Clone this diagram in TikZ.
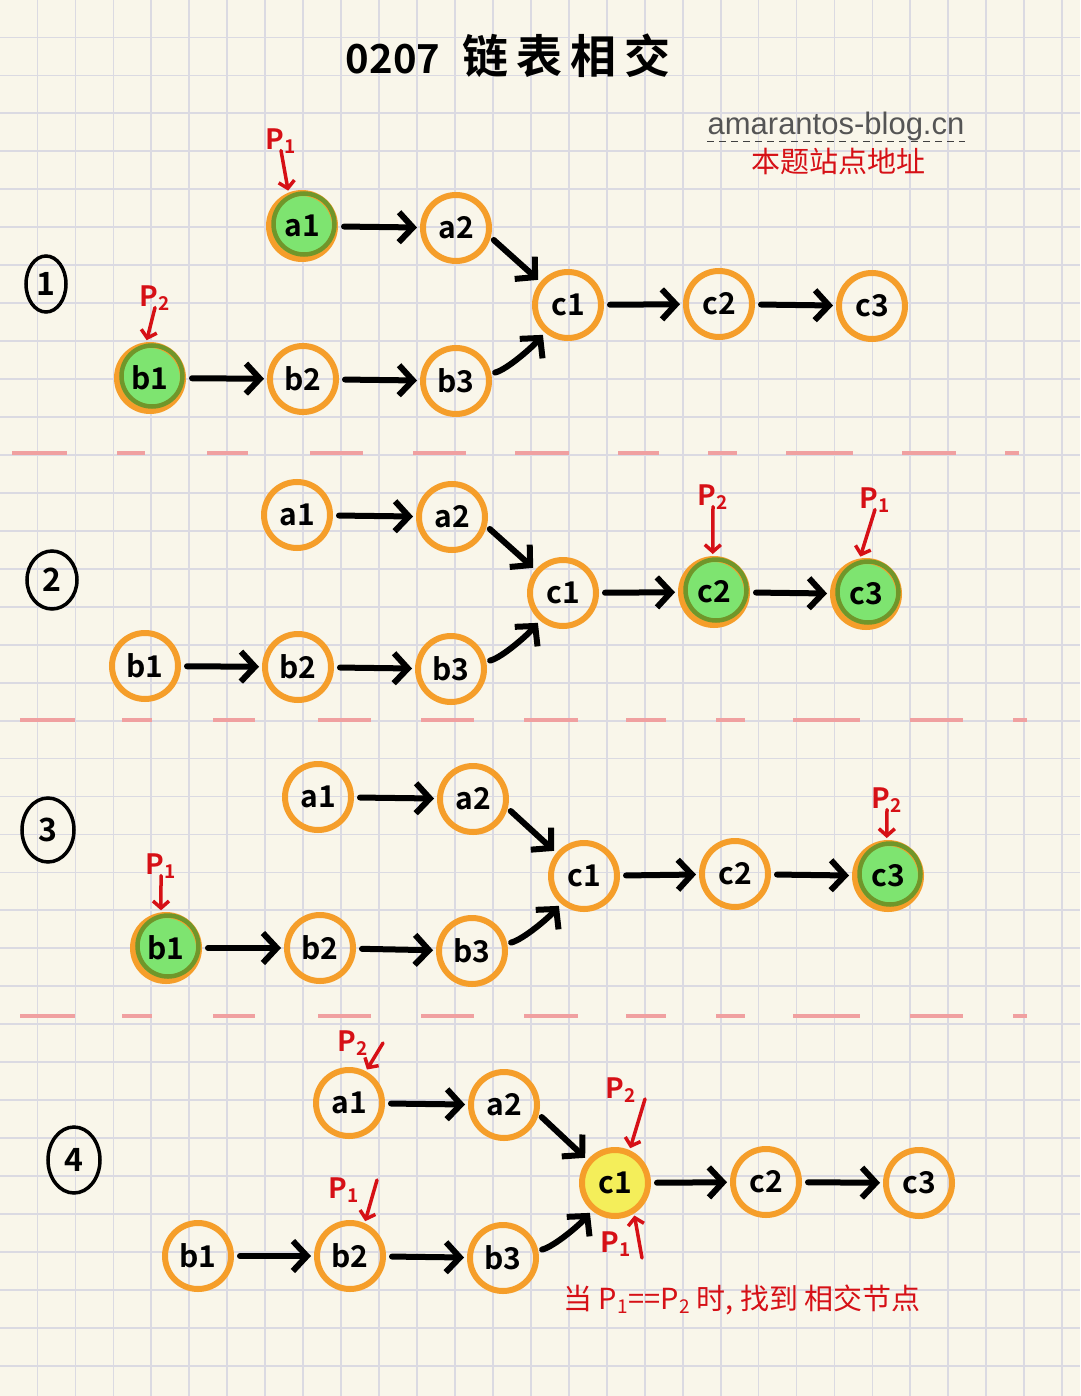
\documentclass[tikz,border=0pt]{standalone}
\usepackage{fontspec}
\usetikzlibrary{arrows.meta,shapes.geometric}
\newfontfamily\cjk{Noto Sans CJK SC}[BoldFont={Noto Sans CJK SC Bold}]
\newfontfamily\web{Liberation Sans}
\definecolor{bg}{RGB}{249,246,234}
\definecolor{gridc}{RGB}{219,218,226}
\definecolor{orng}{RGB}{245,158,42}
\definecolor{grn}{RGB}{126,228,112}
\definecolor{olive}{RGB}{112,150,42}
\definecolor{yel}{RGB}{244,238,90}
\definecolor{pen}{RGB}{214,16,22}
\definecolor{sepc}{RGB}{240,160,160}
\definecolor{webc}{RGB}{85,85,85}
\newcommand\Pn[1]{P\kern0.5pt\raisebox{-4pt}{\fontsize{19}{19}\selectfont #1}}
\tikzset{
  nd/.style={circle, draw=orng, line width=6pt, minimum size=66pt, inner sep=0pt,
    font=\cjk\bfseries\fontsize{30}{30}\selectfont},
  gnode/.style={nd, fill=grn},
  ynode/.style={nd, fill=yel},
  rim/.style={olive, line width=4.5pt},
  arr/.style={line width=6pt, line cap=round, -{Straight Barb[length=14pt,width=30pt]},
    shorten <=6pt, shorten >=3pt},
  parr/.style={pen, line width=3.5pt, line cap=round, -{Straight Barb[length=7pt,width=16pt]},
    shorten >=2pt},
  plab/.style={text=pen, font=\cjk\bfseries\fontsize{28}{28}\selectfont, inner sep=0pt},
  num/.style={ellipse, draw=black, line width=3.5pt, inner sep=0pt,
    font=\cjk\bfseries\fontsize{32}{32}\selectfont},
  gridl/.style={gridc, line width=1.8pt},
  sepl/.style={sepc, line width=3.5pt},
}
\begin{document}
\begin{tikzpicture}[x=1pt,y=-1pt]
\useasboundingbox (0,0) rectangle (1080,1396);
\fill[bg] (0,0) rectangle (1080,1396);
% grid
\foreach \i in {0,...,27} \draw[gridl] ({37.5+37.95*\i},0) -- ({37.5+37.95*\i},1396);
\foreach \i in {0,...,35} \draw[gridl] (0,{37.5+37.95*\i}) -- (1080,{37.5+37.95*\i});
% separators
\foreach \a/\b in {12/67,117/145,207/248,310/363,413/466,515/569,618/659,708/737,786/853,902/956,1005/1019}
  \draw[sepl] (\a,453) -- (\b,453);
\foreach \yy in {720,1016}
  \foreach \a/\b in {20/75,122/152,213/255,318/371,421/474,524/578,626/666,716/745,793/860,910/963,1013/1027}
    \draw[sepl] (\a,\yy) -- (\b,\yy);
% title
\node[font=\cjk\bfseries, inner sep=0pt] (title) at (508,56)
  {\fontsize{40}{40}\selectfont 0207\hspace{22pt}\fontsize{46}{46}\selectfont 链\hspace{8pt}表\hspace{8pt}相\hspace{8pt}交};
% watermark
\node[font=\web\fontsize{31}{31}\selectfont, text=webc, inner sep=0pt] (wm) at (836,126) {amarantos-blog.cn};
\draw[line width=1.3pt, dash pattern=on 7pt off 5pt, black!75] ([yshift=-1pt]wm.south west) -- ([yshift=-1pt]wm.south east);
\node[text=pen, font=\cjk\fontsize{29}{29}\selectfont, inner sep=0pt] (wmsub) at (838,161) {本题站点地址};
% circled numbers
\node[num, minimum width=40pt, minimum height=56pt] (n1) at (46,284) {1};
\node[num, minimum width=50pt, minimum height=58pt] (n2) at (52,580) {2};
\node[num, minimum width=52pt, minimum height=64pt] (n3) at (48,830) {3};
\node[num, minimum width=52pt, minimum height=66pt] (n4) at (74,1160) {4};
% ---------- panel 1
\node[gnode] (pa1) at (302,226) {a1};
\node[nd] (pa2) at (456,228) {a2};
\node[nd] (pc1) at (568,305) {c1};
\node[nd] (pc2) at (719,304) {c2};
\node[nd] (pc3) at (872,306) {c3};
\node[gnode] (pb1) at (150,378) {b1};
\node[nd] (pb2) at (303,379) {b2};
\node[nd] (pb3) at (456,381) {b3};
% ---------- panel 2
\node[nd] (qa1) at (297,515) {a1};
\node[nd] (qa2) at (452,517) {a2};
\node[nd] (qc1) at (563,593) {c1};
\node[gnode] (qc2) at (714,592) {c2};
\node[gnode] (qc3) at (866,594) {c3};
\node[nd] (qb1) at (145,666) {b1};
\node[nd] (qb2) at (298,667) {b2};
\node[nd] (qb3) at (451,669) {b3};
% ---------- panel 3
\node[nd] (ra1) at (318,797) {a1};
\node[nd] (ra2) at (473,799) {a2};
\node[nd] (rc1) at (584,876) {c1};
\node[nd] (rc2) at (735,874) {c2};
\node[gnode] (rc3) at (888,876) {c3};
\node[gnode] (rb1) at (166,948) {b1};
\node[nd] (rb2) at (320,948) {b2};
\node[nd] (rb3) at (472,951) {b3};
% ---------- panel 4
\node[nd] (sa1) at (349,1103) {a1};
\node[nd] (sa2) at (504,1105) {a2};
\node[ynode] (sc1) at (615,1183) {c1};
\node[nd] (sc2) at (766,1182) {c2};
\node[nd] (sc3) at (919,1183) {c3};
\node[nd] (sb1) at (198,1256) {b1};
\node[nd] (sb2) at (350,1256) {b2};
\node[nd] (sb3) at (503,1258) {b3};
% olive rims on green nodes
\foreach \g in {pa1,pb1,qc2,qc3,rc3,rb1}
  \draw[rim] ([shift={(2,-2)}]\g.center) circle[radius=30.5];
% arrows
\foreach \p in {p,q,r,s}{
  \draw[arr] (\p a1) -- (\p a2);
  \draw[arr] (\p b1) -- (\p b2);
  \draw[arr] (\p b2) -- (\p b3);
  \draw[arr] (\p c1) -- (\p c2);
  \draw[arr] (\p c2) -- (\p c3);
  \draw[arr, shorten <=4pt] (\p a2.-15) -- (\p c1.140);
  \draw[arr, shorten <=4pt] (\p b3.12) .. controls +(16,-4) and +(-12,14) .. (\p c1.-130);
}
% pointer labels
\node[plab] (pP1) at (281,141) {\Pn{1}};
\draw[parr] ([yshift=3pt]pP1.south) -- (pa1.112);
\node[plab] (pP2) at (155,298) {\Pn{2}};
\draw[parr] ([yshift=3pt]pP2.south) -- (pb1.96);
\node[plab] (qP2) at (713,497) {\Pn{2}};
\draw[parr] ([yshift=3pt]qP2.south) -- (qc2.92);
\node[plab] (qP1) at (875,500) {\Pn{1}};
\draw[parr] ([yshift=3pt]qP1.south) -- (qc3.100);
\node[plab] (rP1) at (161,866) {\Pn{1}};
\draw[parr] ([yshift=3pt]rP1.south) -- (rb1.98);
\node[plab] (rP2) at (887,800) {\Pn{2}};
\draw[parr] ([yshift=3pt]rP2.south) -- (rc3.92);
\node[plab] (sP2a) at (353,1043) {\Pn{2}};
\coordinate (sP2aT) at (383,1043);
\draw[parr] (sP2aT) -- (sa1.62);
\node[plab] (sP1b) at (344,1190) {\Pn{1}};
\coordinate (sP1bT) at (377,1180);
\draw[parr] (sP1bT) -- (sb2.66);
\node[plab] (sP2c) at (621,1090) {\Pn{2}};
\coordinate (sP2cT) at (645,1099);
\draw[parr] (sP2cT) -- (sc1.66);
\node[plab] (sP1c) at (616,1244) {\Pn{1}};
\coordinate (sP1cT) at (642,1258);
\draw[parr] (sP1cT) -- (sc1.-58);
% bottom note
\node[text=pen, font=\cjk\fontsize{29}{29}\selectfont, inner sep=0pt] (note) at (742,1300)
  {当 \Pn{1}==\Pn{2} 时, 找到 相交节点};
\end{tikzpicture}
\end{document}
